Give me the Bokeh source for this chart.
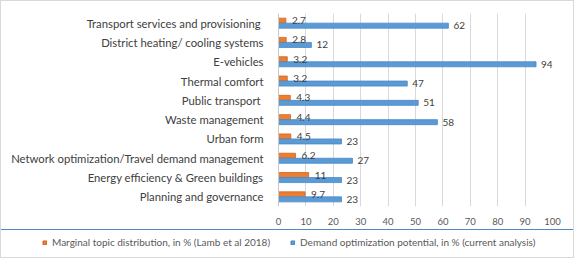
from bokeh.plotting import figure
from bokeh.layouts import column, row
from bokeh.models import ColumnDataSource, Legend, LegendItem, FixedTicker
from bokeh.transform import dodge
from bokeh.embed import file_html
from bokeh.resources import INLINE
from bokeh.core.properties import value

categories = [
    "Planning and governance",
    "Energy efficiency & Green buildings",
    "Network optimization/Travel demand management",
    "Urban form",
    "Waste management",
    "Public transport ",
    "Thermal comfort",
    "E-vehicles",
    "District heating/ cooling systems",
    "Transport services and provisioning ",
]
marginal = [9.7, 11, 6.2, 4.5, 4.4, 4.3, 3.2, 3.2, 2.8, 2.7]
demand = [23, 23, 27, 23, 58, 51, 47, 94, 12, 62]
marginal_labels = ["9.7", "11", "6.2", "4.5", "4.4", "4.3", "3.2", "3.2", "2.8", "2.7"]
demand_labels = ["23", "23", "27", "23", "58", "51", "47", "94", "12", "62"]
x_ticks = [0, 10, 20, 30, 40, 50, 60, 70, 80, 90, 100]
series_names = [
    "Marginal topic distribution, in % (Lamb et al 2018)",
    "Demand optimization potential, in % (current analysis)",
]

FONT = "Lato"
ORANGE = "#ED7D31"
BLUE = "#5B9BD5"
W = 572

src = ColumnDataSource(dict(cat=categories, m=marginal, d=demand,
                            ml=marginal_labels, dl=demand_labels))

p = figure(width=W, height=228, y_range=categories, x_range=(0, 100),
           output_backend="svg", toolbar_location=None,
           min_border_left=277, min_border_right=W - 277 - 274,
           min_border_top=12, min_border_bottom=23)
p.outline_line_color = None
p.background_fill_color = "white"
p.border_fill_color = "white"

p.ygrid.grid_line_color = None
p.xgrid.grid_line_color = "#D9D9D9"
p.xgrid.ticker = FixedTicker(ticks=x_ticks)

p.xaxis.ticker = FixedTicker(ticks=x_ticks)
p.xaxis.axis_line_color = None
p.xaxis.major_tick_line_color = None
p.xaxis.minor_tick_line_color = None
p.xaxis.major_label_text_font = FONT
p.xaxis.major_label_text_font_size = "9.5px"
p.xaxis.major_label_text_color = "#595959"
p.xaxis.major_label_standoff = 5

p.yaxis.axis_line_color = "#C8C8C8"
p.yaxis.major_tick_line_color = None
p.yaxis.minor_tick_line_color = None
p.yaxis.major_label_text_font = FONT
p.yaxis.major_label_text_font_size = "11.3px"
p.yaxis.major_label_text_color = "#404040"
p.yaxis.major_label_standoff = 9

r_m = p.hbar(y=dodge("cat", 0.13, range=p.y_range), right="m", left=0, height=0.26,
             fill_color=ORANGE, line_color="#D0651E", line_width=0.8, source=src)
r_d = p.hbar(y=dodge("cat", -0.13, range=p.y_range), right="d", left=0, height=0.26,
             fill_color=BLUE, line_color="#4A86C8", line_width=0.8, source=src)

p.text(x="m", y=dodge("cat", 0.13, range=p.y_range), text="ml", x_offset=6,
       text_baseline="middle", text_align="left", text_font=value(FONT),
       text_font_size="10px", text_color="#404040", source=src)
p.text(x="d", y=dodge("cat", -0.13, range=p.y_range), text="dl", x_offset=5,
       text_baseline="middle", text_align="left", text_font=value(FONT),
       text_font_size="10px", text_color="#404040", source=src)

# legend strip below the chart (its series sit outside its visible range)
lf = figure(width=W, height=28, x_range=(0, 1), y_range=(0, 1),
            x_axis_type=None, y_axis_type=None,
            output_backend="svg", toolbar_location=None, min_border=0)
lf.outline_line_color = None
lf.grid.grid_line_color = None
lr_m = lf.hbar(y="m", right="m", left=0, height=0.1, fill_color=ORANGE,
               line_color="#D0651E", source=src)
lr_d = lf.hbar(y="d", right="d", left=0, height=0.1, fill_color=BLUE,
               line_color="#4A86C8", source=src)

lg = Legend(items=[LegendItem(label=series_names[0], renderers=[lr_m]),
                   LegendItem(label=series_names[1], renderers=[lr_d])],
            location=(41, 9),
            orientation="horizontal", glyph_width=5, glyph_height=5,
            label_standoff=5, padding=0, margin=0, spacing=20,
            border_line_color=None, background_fill_alpha=0,
            label_text_font=FONT, label_text_font_size="10px",
            label_text_color="#595959", label_height=12)
lf.add_layout(lg, "center")

layout = column(p, row(lf), spacing=0,
                styles={"border": "1px solid #D9D9D9"})

open("out.html", "w").write(file_html(layout, INLINE))
